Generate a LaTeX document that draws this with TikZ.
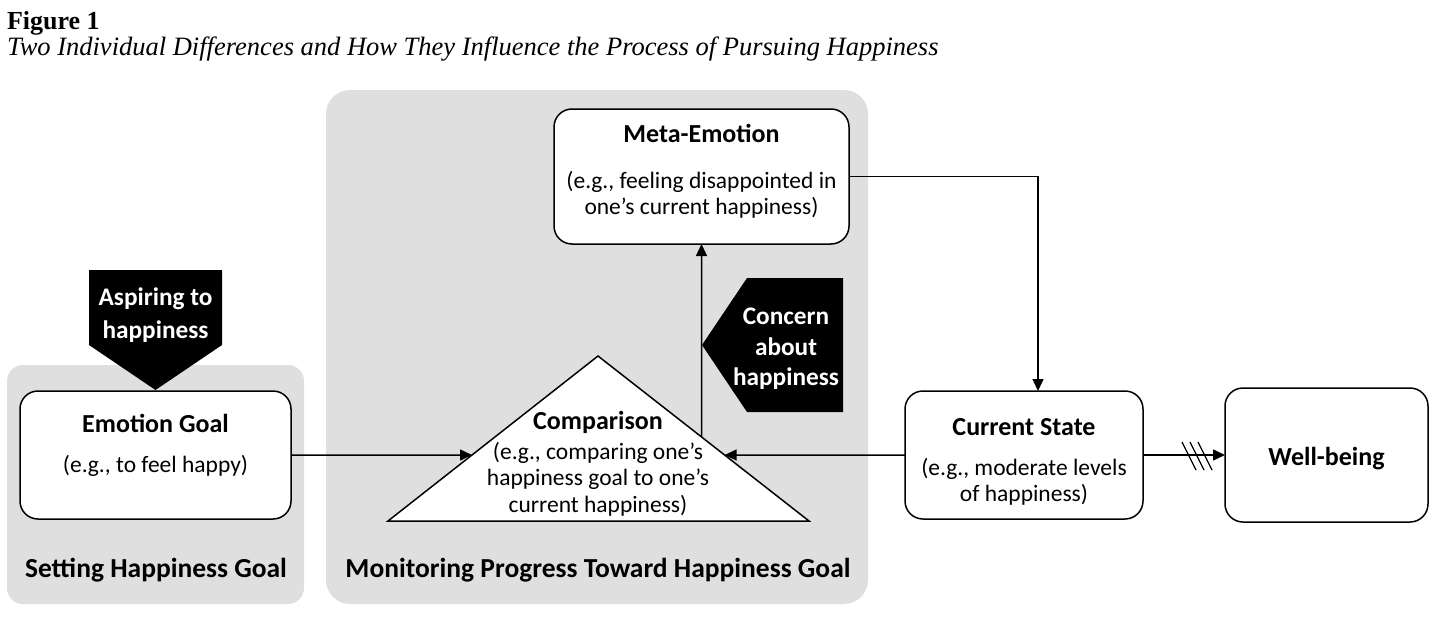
\documentclass[tikz,border=0pt]{standalone}
\usepackage{fontspec}
\setmainfont{Carlito}
\newfontfamily\figserif{Liberation Serif}
\usetikzlibrary{arrows.meta,calc}
\definecolor{panelgray}{RGB}{223,223,223}
\newcommand\fTitle{\fontsize{26}{30}\selectfont\bfseries}
\newcommand\fBlack{\fontsize{25.3}{30}\selectfont\bfseries}
\newcommand\fBody{\fontsize{23.5}{27}\selectfont}
\newcommand\fPanel{\fontsize{27.5}{31}\selectfont\bfseries}
\begin{document}
\begin{tikzpicture}[x=1pt,y=-1pt,
  every node/.style={inner sep=0pt, outer sep=0pt},
  panel/.style={fill=panelgray},
  box/.style={draw=black, line width=1.5pt, fill=white, rounded corners=18pt},
  txt/.style={anchor=base},
  conn/.style={line width=1.5pt, -{Triangle[length=12pt,width=11pt]}},
  blackarrow/.style={fill=black},
  hatch/.style={line width=1.3pt}]
\useasboundingbox (0,0) rectangle (1456,618);
\fill[white] (0,0) rectangle (1456,618);

% title
\node[anchor=base west, font=\figserif\fontsize{26}{26}\selectfont\bfseries] (fig) at (7,30) {Figure 1};
\node[anchor=base west, font=\figserif\fontsize{26.5}{27}\selectfont\itshape] (cap) at (7,56) {Two Individual Differences and How They Influence the Process of Pursuing Happiness};

% panels
\fill[panel, rounded corners=16pt] (7,365) rectangle (304,604);
\fill[panel, rounded corners=24pt] (326,90) rectangle (868,604);
\node[txt, font=\fPanel] (pl1) at (156,577) {Setting Happiness Goal};
\node[txt, font=\fPanel] (pl2) at (598,577) {Monitoring Progress Toward Happiness Goal};

% boxes
\node[box, minimum width=271pt, minimum height=128pt] (eg) at (155.5,455) {};
\node[box, minimum width=295pt, minimum height=135pt] (me) at (701.5,176.5) {};
\node[box, minimum width=238pt, minimum height=128pt] (cs) at (1024,455) {};
\node[box, minimum width=203pt, minimum height=134pt] (wb) at (1326.5,455) {};

% triangle
\coordinate (tA) at (598,356);
\coordinate (tL) at (388,521);
\coordinate (tR) at (809,521);
\draw[line width=1.5pt, fill=white, line join=miter] (tA) -- (tL) -- (tR) -- cycle;
\coordinate (tLin) at ($(tA)!0.6!(tL)$);
\coordinate (tRin) at ($(tA)!0.6!(tR)$);
\coordinate (tUp) at ($(tA)!0.4905!(tR)$);

% texts in boxes
\node[txt, font=\fTitle] (egT) at (155.5,432) {Emotion Goal};
\node[txt, font=\fBody] (egB) at (155.5,472) {(e.g., to feel happy)};

\node[txt, font=\fTitle] (meT) at (701.5,142) {Meta-Emotion};
\node[txt, font=\fBody] (meB1) at (701.5,188) {(e.g., feeling disappointed in};
\node[txt, font=\fBody] (meB2) at (701.5,214) {one’s current happiness)};

\node[txt, font=\fTitle] (coT) at (598,429) {Comparison};
\node[txt, font=\fBody] (coB1) at (598,459) {(e.g., comparing one’s};
\node[txt, font=\fBody] (coB2) at (598,485) {happiness goal to one’s};
\node[txt, font=\fBody] (coB3) at (598,512) {current happiness)};

\node[txt, font=\fTitle] (csT) at (1024,435) {Current State};
\node[txt, font=\fBody] (csB1) at (1024,475) {(e.g., moderate levels};
\node[txt, font=\fBody] (csB2) at (1024,501) {of happiness)};

\node[txt, font=\fTitle] (wbT) at (1326.5,465) {Well-being};

% black arrow shapes
\fill[blackarrow] (89,270) -- (222,270) -- (222,345) -- (155.5,390) -- (89,345) -- cycle;
\node[txt, font=\fBlack, text=white] (asp1) at (155.5,305) {Aspiring to};
\node[txt, font=\fBlack, text=white] (asp2) at (155.5,338) {happiness};

\fill[blackarrow] (702,345) -- (747,278) -- (843,278) -- (843,412) -- (747,412) -- cycle;
\node[txt, font=\fBlack, text=white] (con1) at (786,324) {Concern};
\node[txt, font=\fBlack, text=white] (con2) at (786,355) {about};
\node[txt, font=\fBlack, text=white] (con3) at (786,385) {happiness};

% connectors
\draw[conn] (eg.east) -- (tLin);
\draw[conn] (cs.west) -- (tRin);
\draw[conn] (tUp) -- (me.south);
\draw[conn] (me.east) -| ($(cs.north)+(14,0)$);
\draw[conn] (cs.east) -- (wb.west);
\draw[hatch] (1182,442) -- (1196,470);
\draw[hatch] (1190,442) -- (1204,470);
\draw[hatch] (1198,442) -- (1212,470);
\end{tikzpicture}
\end{document}
